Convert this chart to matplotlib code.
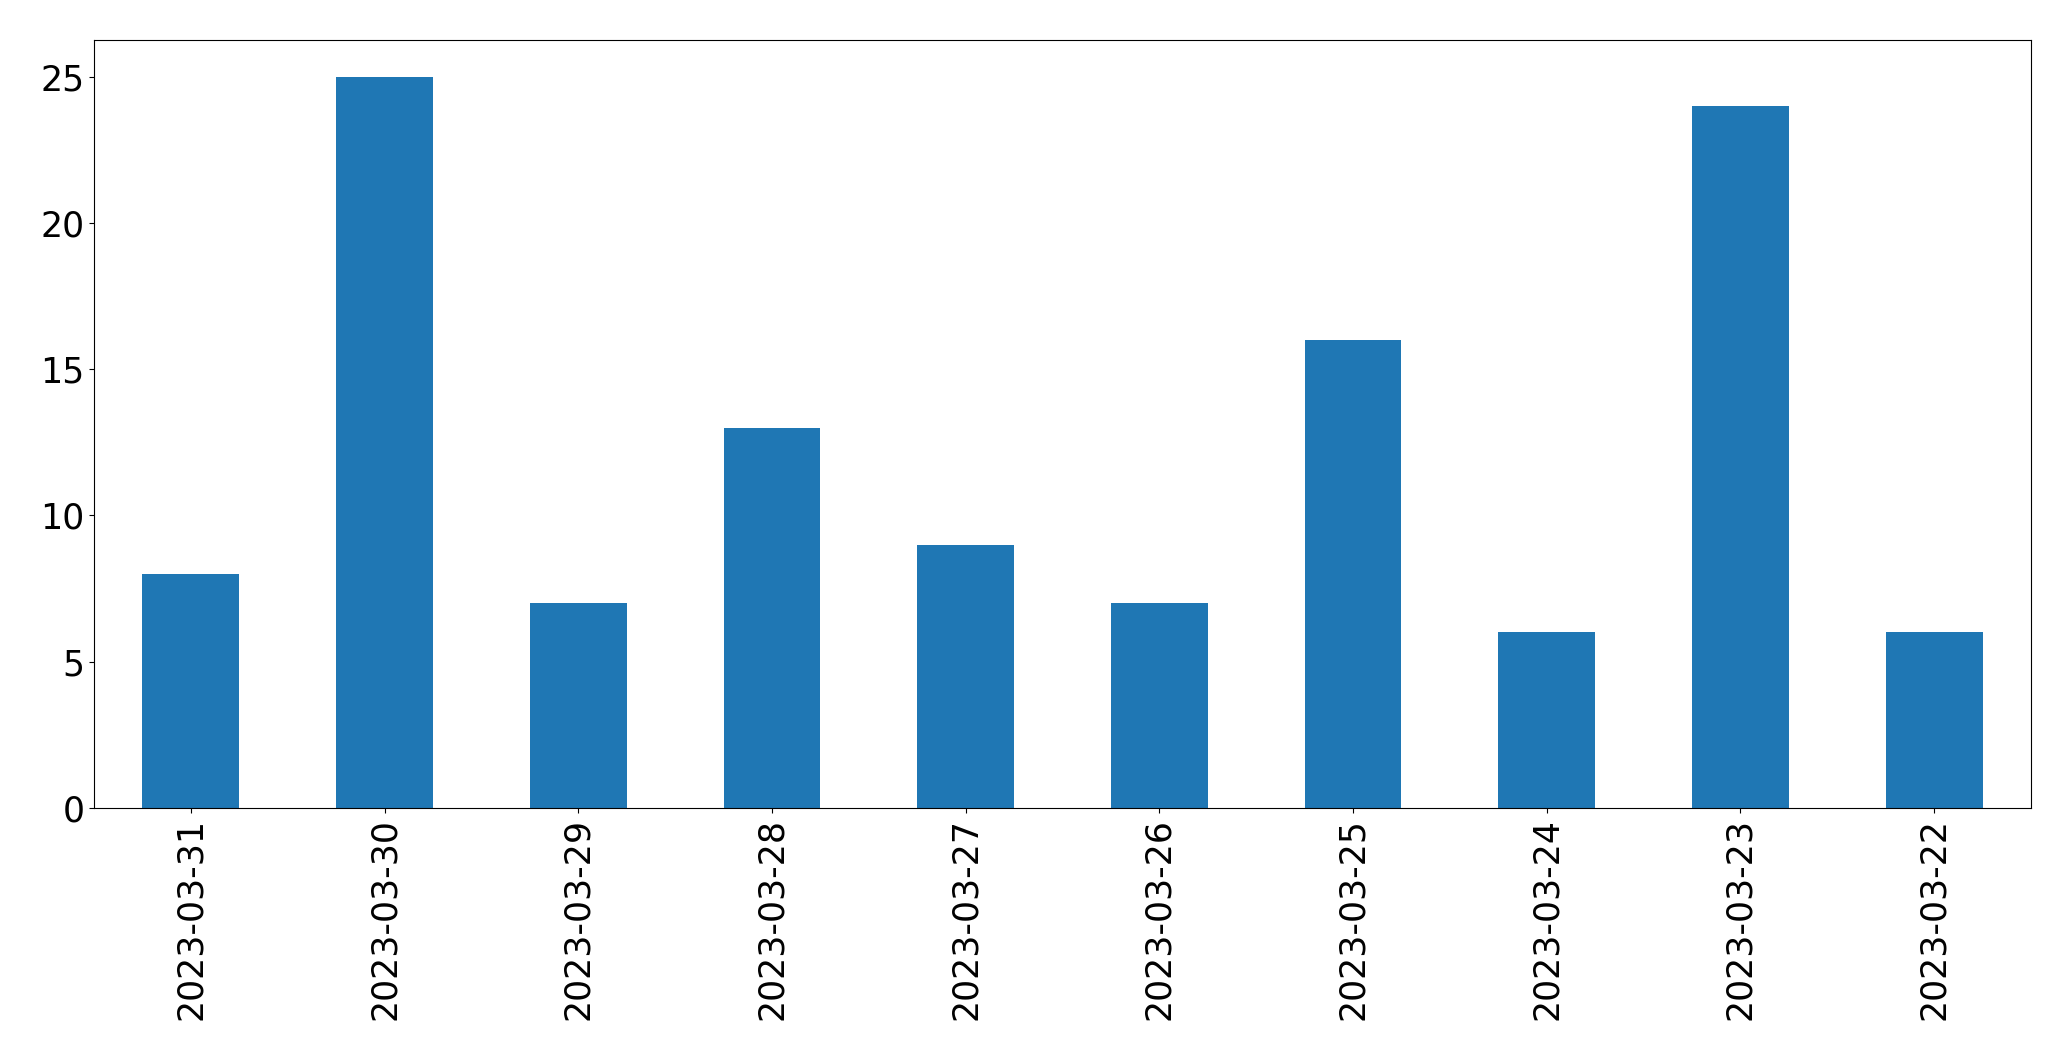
import pandas as pd
import matplotlib.pyplot as plt

dates = ['2023-03-31', '2023-03-30', '2023-03-29', '2023-03-28', '2023-03-27',
         '2023-03-26', '2023-03-25', '2023-03-24', '2023-03-23', '2023-03-22']
counts = [8, 25, 7, 13, 9, 7, 16, 6, 24, 6]

s = pd.Series(counts, index=dates)

fig, ax = plt.subplots(figsize=(20.71, 10.61), dpi=100)
s.plot(kind='bar', ax=ax, color='#1f77b4')
ax.tick_params(axis='both', labelsize=25)
plt.subplots_adjust(left=94/2071, right=2031/2071, top=1-40/1061, bottom=1-808/1061)
plt.savefig('out.png', dpi=100)
